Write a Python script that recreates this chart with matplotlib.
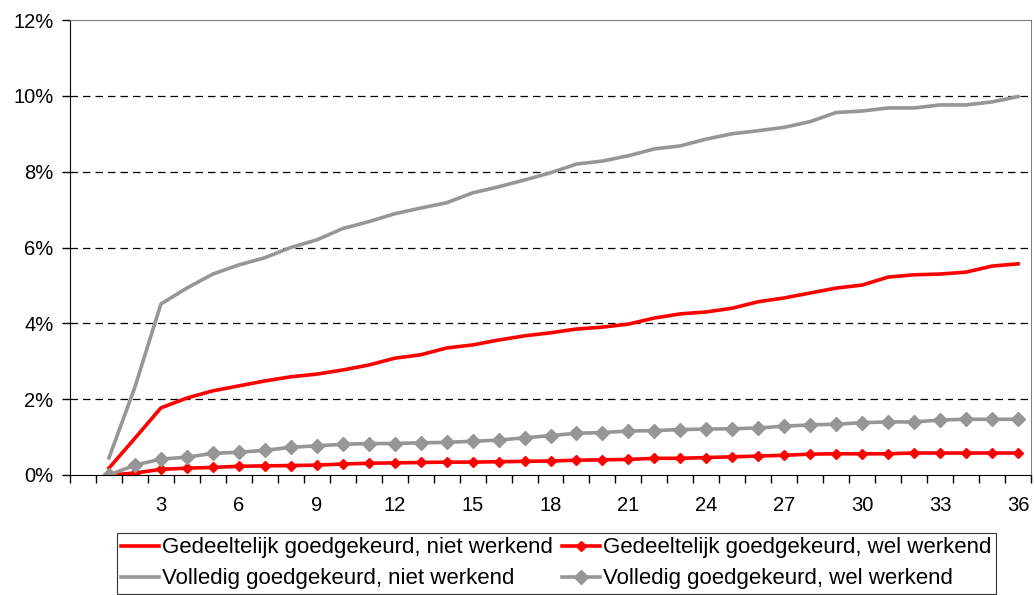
import matplotlib.pyplot as plt
from matplotlib.ticker import FuncFormatter, MultipleLocator, FixedLocator

plt.rcParams['font.family'] = ['Liberation Sans', 'DejaVu Sans']

maanden = list(range(1, 37))

# percentages
gedeeltelijk_niet = [0.18, 0.97, 1.77, 2.03, 2.22, 2.35, 2.48, 2.59, 2.66, 2.77,
                     2.90, 3.08, 3.17, 3.35, 3.43, 3.56, 3.67, 3.75, 3.85, 3.90,
                     3.98, 4.14, 4.25, 4.30, 4.40, 4.57, 4.67, 4.80, 4.93, 5.01,
                     5.22, 5.28, 5.30, 5.35, 5.51, 5.57]
gedeeltelijk_wel = [0.00, 0.05, 0.15, 0.18, 0.20, 0.23, 0.24, 0.25, 0.26, 0.29,
                    0.31, 0.32, 0.33, 0.34, 0.34, 0.35, 0.36, 0.37, 0.39, 0.40,
                    0.41, 0.44, 0.44, 0.46, 0.48, 0.50, 0.52, 0.55, 0.56, 0.56,
                    0.56, 0.58, 0.58, 0.58, 0.58, 0.58]
volledig_niet = [0.45, 2.32, 4.51, 4.93, 5.30, 5.54, 5.73, 6.00, 6.20, 6.50,
                 6.68, 6.89, 7.04, 7.18, 7.44, 7.60, 7.78, 7.97, 8.20, 8.28,
                 8.42, 8.60, 8.68, 8.86, 9.00, 9.08, 9.17, 9.32, 9.56, 9.60,
                 9.68, 9.68, 9.76, 9.76, 9.84, 9.98]
volledig_wel = [0.00, 0.26, 0.42, 0.47, 0.57, 0.60, 0.65, 0.73, 0.77, 0.81,
                0.83, 0.83, 0.85, 0.86, 0.89, 0.92, 0.98, 1.04, 1.10, 1.12,
                1.16, 1.17, 1.20, 1.21, 1.22, 1.24, 1.29, 1.32, 1.34, 1.38,
                1.40, 1.40, 1.45, 1.47, 1.47, 1.47]

labels = ['Gedeeltelijk goedgekeurd, niet werkend',
          'Gedeeltelijk goedgekeurd, wel werkend',
          'Volledig goedgekeurd, niet werkend',
          'Volledig goedgekeurd, wel werkend']

rood = '#ff0000'
grijs = '#969696'

fig = plt.figure(figsize=(10.34, 5.95), dpi=100)
ax = fig.add_axes([70 / 1034, 1 - 475 / 595, 961 / 1034, 455 / 595])

l1, = ax.plot(maanden, gedeeltelijk_niet, color=rood, lw=2.6, solid_joinstyle='round')
l2, = ax.plot(maanden, gedeeltelijk_wel, color=rood, lw=2.6, marker='D', ms=5.5)
l3, = ax.plot(maanden, volledig_niet, color=grijs, lw=2.6, solid_joinstyle='round')
l4, = ax.plot(maanden, volledig_wel, color=grijs, lw=2.6, marker='D', ms=7)

ax.set_xlim(-0.5, 36.5)
ax.set_ylim(0, 12)
ax.yaxis.set_major_locator(MultipleLocator(2))
ax.yaxis.set_major_formatter(FuncFormatter(lambda v, p: f'{v:.0f}%'))
ax.xaxis.set_major_locator(FixedLocator(list(range(3, 37, 3))))
ax.xaxis.set_minor_locator(FixedLocator([i - 0.5 for i in range(0, 38)]))
ax.tick_params(axis='x', which='major', length=0, pad=15, labelsize=14.5)
ax.tick_params(axis='x', which='minor', length=6, width=1, color='black')
ax.tick_params(axis='y', length=6, width=1, labelsize=14.5, pad=6)

for y in range(2, 12, 2):
    ax.axhline(y, color='black', lw=0.9, ls=(0, (6, 4)), zorder=0)

ax.spines['left'].set_color('black')
ax.spines['bottom'].set_color('black')
ax.spines['top'].set_color('#808080')
ax.spines['right'].set_color('#808080')

leg = fig.legend([l1, l3, l2, l4], [labels[0], labels[2], labels[1], labels[3]],
                 ncol=2, loc='lower center', bbox_to_anchor=(0.538, 0.002),
                 fontsize=16, frameon=True, fancybox=False, edgecolor='black',
                 handlelength=1.7, handletextpad=0.15, columnspacing=0.4,
                 labelspacing=0.45, borderpad=0.2, borderaxespad=0)
leg.get_frame().set_linewidth(0.8)

fig.savefig('out.png', dpi=100)
